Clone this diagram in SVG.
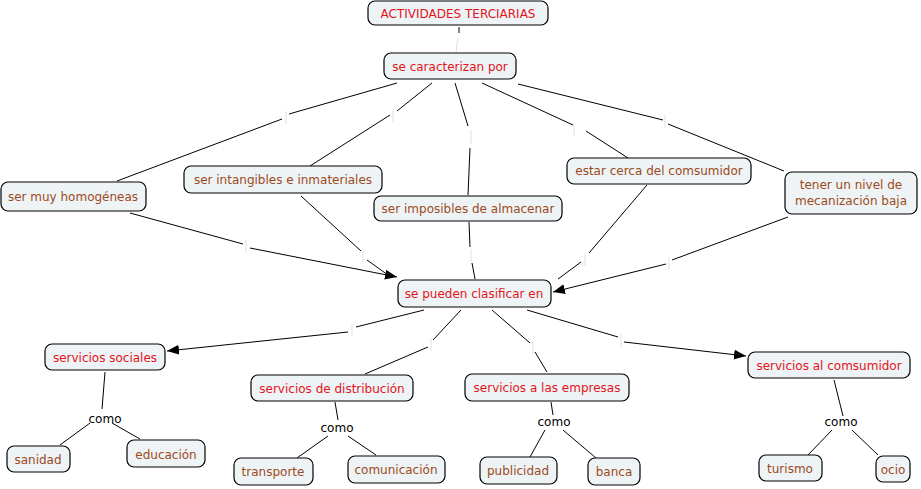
<svg xmlns="http://www.w3.org/2000/svg" width="921" height="489" viewBox="0 0 921 489">
<style>
.n rect{fill:#eef3f5;stroke:#000;stroke-width:1.2}
text{font-family:"DejaVu Sans",Verdana,sans-serif;font-size:12px;text-anchor:middle}
.r{fill:#e3141c}
.b{fill:#9c4a1c}
.k{fill:#000}
.c line{stroke:#000;stroke-width:1}
.c .t{stroke:#e0e0e0;stroke-width:1}
</style>
<defs>
<marker id="a" viewBox="0 0 12 10" refX="12" refY="5" markerWidth="12" markerHeight="10" markerUnits="userSpaceOnUse" orient="auto">
<path d="M0,0L12,5L0,10z" fill="#000"/>
</marker>
</defs>
<rect width="921" height="489" fill="#fff"/>
<g class="c">
<line x1="459" y1="27" x2="459" y2="33"/><line class="t" x1="458" y1="38" x2="456" y2="52"/>
<line x1="397" y1="83" x2="289" y2="114"/><line class="t" x1="286" y1="111" x2="286" y2="124"/><line x1="282" y1="119" x2="117" y2="181"/>
<line x1="432" y1="83" x2="397" y2="111"/><line class="t" x1="393" y1="110" x2="393" y2="123"/><line x1="390" y1="115" x2="310" y2="166"/>
<line x1="455" y1="83" x2="468" y2="126"/><line class="t" x1="471" y1="130" x2="471" y2="144"/><line x1="470" y1="148" x2="468" y2="195"/>
<line x1="482" y1="83" x2="573" y2="125"/><line class="t" x1="574" y1="123" x2="574" y2="136"/><line x1="586" y1="131" x2="628" y2="158"/>
<line x1="518" y1="84" x2="663" y2="120"/><line class="t" x1="665" y1="115" x2="665" y2="128"/><line x1="668" y1="124" x2="784" y2="171"/>
<line x1="130" y1="213" x2="243" y2="244"/><line class="t" x1="246" y1="240" x2="246" y2="253"/><line x1="250" y1="248" x2="397" y2="277" marker-end="url(#a)"/>
<line x1="301" y1="196" x2="361" y2="251"/><line class="t" x1="363" y1="249" x2="363" y2="262"/><line x1="367" y1="260" x2="388" y2="275"/>
<line x1="469" y1="222" x2="470" y2="247"/><line class="t" x1="471" y1="249" x2="471" y2="262"/><line x1="472" y1="263" x2="475" y2="279"/>
<line x1="647" y1="185" x2="589" y2="253"/><line class="t" x1="585" y1="253" x2="585" y2="266"/><line x1="581" y1="262" x2="558" y2="279"/>
<line x1="788" y1="217" x2="672" y2="260"/><line class="t" x1="669" y1="257" x2="669" y2="270"/><line x1="666" y1="264" x2="553" y2="292" marker-end="url(#a)"/>
<line x1="424" y1="310" x2="356" y2="327"/><line class="t" x1="352" y1="324" x2="352" y2="337"/><line x1="348" y1="332" x2="167" y2="351" marker-end="url(#a)"/>
<line x1="461" y1="310" x2="433" y2="340"/><line class="t" x1="431" y1="338" x2="431" y2="351"/><line x1="428" y1="347" x2="365" y2="374"/>
<line x1="492" y1="310" x2="530" y2="343"/><line class="t" x1="533" y1="341" x2="533" y2="354"/><line x1="535" y1="352" x2="547" y2="372"/>
<line x1="527" y1="310" x2="618" y2="337"/><line class="t" x1="621" y1="334" x2="621" y2="347"/><line x1="624" y1="342" x2="746" y2="356" marker-end="url(#a)"/>
<line x1="105" y1="372" x2="102" y2="409"/>
<line x1="90" y1="423" x2="60" y2="445"/>
<line x1="112" y1="423" x2="140" y2="439"/>
<line x1="335" y1="402" x2="338" y2="420"/>
<line x1="328" y1="436" x2="297" y2="458"/>
<line x1="348" y1="436" x2="376" y2="455"/>
<line x1="551" y1="402" x2="553" y2="415"/>
<line x1="545" y1="430" x2="530" y2="457"/>
<line x1="563" y1="430" x2="596" y2="458"/>
<line x1="834" y1="380" x2="843" y2="416"/>
<line x1="832" y1="430" x2="808" y2="455"/>
<line x1="852" y1="430" x2="878" y2="455"/>
</g>
<g id="n1" class="n"><rect x="368" y="1" width="180" height="24" rx="7"/><text class="r" x="458" y="18">ACTIVIDADES TERCIARIAS</text></g>
<g id="n2" class="n"><rect x="384" y="53" width="132" height="26" rx="7"/><text class="r" x="450" y="71">se caracterizan por</text></g>
<g id="n3" class="n"><rect x="1" y="182" width="145" height="29" rx="7"/><text class="b" x="73" y="201">ser muy homogéneas</text></g>
<g id="n4" class="n"><rect x="184" y="166" width="198" height="27" rx="7"/><text class="b" x="283" y="184">ser intangibles e inmateriales</text></g>
<g id="n5" class="n"><rect x="374" y="196" width="188" height="25" rx="7"/><text class="b" x="468" y="213">ser imposibles de almacenar</text></g>
<g id="n6" class="n"><rect x="567" y="158" width="184" height="26" rx="7"/><text class="b" x="659" y="175">estar cerca del comsumidor</text></g>
<g id="n7" class="n"><rect x="785" y="172" width="132" height="42" rx="7"/><text class="b" x="851" y="189">tener un nivel de</text><text class="b" x="851" y="205">mecanización baja</text></g>
<g id="n8" class="n"><rect x="398" y="280" width="153" height="27" rx="7"/><text class="r" x="474" y="298">se pueden clasificar en</text></g>
<g id="n9" class="n"><rect x="45" y="344" width="120" height="26" rx="7"/><text class="r" x="105" y="362">servicios sociales</text></g>
<g id="n10" class="n"><rect x="251" y="375" width="162" height="26" rx="7"/><text class="r" x="332" y="393">servicios de distribución</text></g>
<g id="n11" class="n"><rect x="465" y="374" width="164" height="27" rx="7"/><text class="r" x="547" y="392">servicios a las empresas</text></g>
<g id="n12" class="n"><rect x="748" y="352" width="162" height="26" rx="7"/><text class="r" x="829" y="370">servicios al comsumidor</text></g>
<g id="l1"><text class="k" x="105" y="423">como</text></g>
<g id="l2"><text class="k" x="337" y="432">como</text></g>
<g id="l3"><text class="k" x="554" y="426">como</text></g>
<g id="l4"><text class="k" x="841" y="426">como</text></g>
<g id="n13" class="n"><rect x="7" y="446" width="63" height="26" rx="7"/><text class="b" x="38" y="464">sanidad</text></g>
<g id="n14" class="n"><rect x="127" y="440" width="78" height="27" rx="7"/><text class="b" x="166" y="459">educación</text></g>
<g id="n15" class="n"><rect x="234" y="458" width="79" height="27" rx="7"/><text class="b" x="273" y="476">transporte</text></g>
<g id="n16" class="n"><rect x="348" y="456" width="97" height="27" rx="7"/><text class="b" x="396" y="474">comunicación</text></g>
<g id="n17" class="n"><rect x="480" y="457" width="77" height="27" rx="7"/><text class="b" x="518" y="475">publicidad</text></g>
<g id="n18" class="n"><rect x="588" y="458" width="52" height="27" rx="7"/><text class="b" x="614" y="476">banca</text></g>
<g id="n19" class="n"><rect x="759" y="455" width="63" height="26" rx="7"/><text class="b" x="790" y="473">turismo</text></g>
<g id="n20" class="n"><rect x="876" y="456" width="34" height="26" rx="7"/><text class="b" x="893" y="474">ocio</text></g>
</svg>
